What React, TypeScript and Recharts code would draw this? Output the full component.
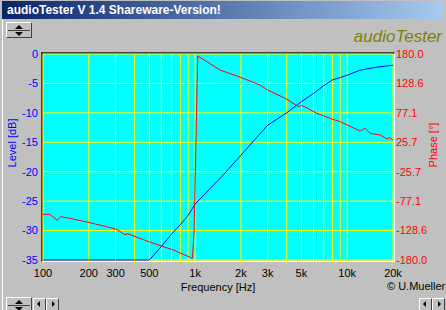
import React from "react";
import { LineChart, Line, XAxis, YAxis, CartesianGrid } from "recharts";

// Level curve (blue)
const levelFreq = [
  100, 500, 600, 700, 800, 900, 1000, 1500, 2000, 3000, 4000, 5000, 6000,
  7000, 8000, 9000, 10000, 12000, 15000, 20000,
];
const levelDb = [
  -35, -35, -32.7, -30.6, -29.0, -27.4, -25.5, -20.8, -17.2, -12.1, -10.0,
  -8.1, -6.7, -5.4, -4.4, -4.0, -3.6, -2.8, -2.3, -1.9,
];

// Phase curve (red)
const phaseFreq = [
  100, 111, 124, 131, 150, 204, 262, 305, 346, 360, 506, 720, 927, 960, 985,
  1000, 1016, 1031, 1042, 1200, 1460, 2000, 2300, 2666, 3000, 3910, 4783,
  5035, 5293, 6314, 7930, 8995, 10000, 12178, 13130, 14100, 16490, 18300,
  19000, 20000,
];
const phaseDeg = [
  -100.2, -100.2, -110.6, -104.3, -107.2, -114.9, -121.8, -126.4, -136,
  -134, -149, -162.5, -175.3, -177, -132, -45, 44, 132, 176.5, 166.4, 152,
  139, 132.8, 125.8, 117, 102.6, 88, 89.7, 87.4, 76.4, 66.4, 61.7, 56, 45.4,
  50.2, 41.4, 38.4, 31.5, 33.7, 29.7,
];

// axes
const gridFreqs = [
  100, 200, 300, 400, 500, 600, 700, 800, 900, 1000, 2000, 3000, 4000, 5000,
  6000, 7000, 8000, 9000, 10000, 20000,
];
const labeledFreqs = [100, 200, 300, 500, 1000, 2000, 3000, 5000, 10000, 20000];
const freqTickLabels = ["100", "200", "300", "500", "1k", "2k", "3k", "5k", "10k", "20k"];
const levelTicks = [0, -5, -10, -15, -20, -25, -30, -35];
const phaseTicks = [180, 128.6, 77.1, 25.7, -25.7, -77.1, -128.6, -180];

const levelData = levelFreq.map((f, i) => ({ freq: f, level: levelDb[i] }));
const phaseData = phaseFreq.map((f, i) => ({ freq: f, phase: phaseDeg[i] }));

const FONT = "'Liberation Sans', Arial, sans-serif";
const FACE = "#c0c0c0";

const freqFormatter = (v: number) => {
  const i = labeledFreqs.indexOf(v);
  return i >= 0 ? freqTickLabels[i] : "";
};

const raised = {
  background: FACE,
  borderTop: "1px solid #fff",
  borderLeft: "1px solid #fff",
  borderRight: "1px solid #404040",
  borderBottom: "1px solid #404040",
  boxSizing: "border-box" as const,
  position: "absolute" as const,
};

function Tri({ dir, s, style }: { dir: string; s: number; style: any }) {
  const t = `${s}px solid transparent`;
  const b = `${s}px solid #000`;
  const shape =
    dir === "up"
      ? { borderLeft: t, borderRight: t, borderBottom: b }
      : dir === "down"
      ? { borderLeft: t, borderRight: t, borderTop: b }
      : dir === "left"
      ? { borderTop: t, borderBottom: t, borderRight: b }
      : { borderTop: t, borderBottom: t, borderLeft: b };
  return <div style={{ position: "absolute", width: 0, height: 0, ...shape, ...style }} />;
}

function SpinButton({ left, top }: { left: number; top: number }) {
  return (
    <div style={{ ...raised, left, top, width: 26, height: 16 }}>
      <Tri dir="up" s={4} style={{ left: 8, top: 2 }} />
      <div style={{ position: "absolute", left: 1, right: 1, top: 7, height: 1, background: "#404040" }} />
      <Tri dir="down" s={4} style={{ left: 8, top: 9 }} />
    </div>
  );
}

function ArrowPair({ left, top }: { left: number; top: number }) {
  return (
    <>
      <div style={{ ...raised, left, top, width: 13, height: 13 }}>
        <Tri dir="left" s={3} style={{ left: 3, top: 2 }} />
      </div>
      <div style={{ ...raised, left: left + 13, top, width: 13, height: 13 }}>
        <Tri dir="right" s={3} style={{ left: 5, top: 2 }} />
      </div>
    </>
  );
}

export default function App() {
  return (
    <div
      style={{
        position: "absolute",
        left: 0,
        top: 0,
        width: 446,
        height: 310,
        background: FACE,
        overflow: "hidden",
        fontFamily: FONT,
      }}
    >
      {/* window title */}
      <div
        style={{
          position: "absolute",
          left: 2,
          top: 1,
          width: 442,
          height: 18,
          background: "linear-gradient(to right, #0a246a, #a6caf0)",
        }}
      >
        <div
          style={{
            position: "absolute",
            left: 5,
            top: 2,
            color: "#fff",
            fontWeight: "bold",
            fontSize: 12,
            lineHeight: "14px",
            whiteSpace: "nowrap",
          }}
        >
          audioTester V 1.4 Shareware-Version!
        </div>
      </div>
      <div style={{ position: "absolute", left: 2, top: 19, width: 1, height: 291, background: "#fff" }} />

      <SpinButton left={6} top={22} />

      <div
        style={{
          position: "absolute",
          right: 4,
          top: 28,
          color: "#808000",
          fontStyle: "italic",
          fontSize: 17,
          lineHeight: "17px",
          whiteSpace: "nowrap",
        }}
      >
        audioTester
      </div>

      {/* sunken frame around the plot */}
      <div
        style={{
          position: "absolute",
          left: 41,
          top: 52,
          width: 351,
          height: 207,
          borderTop: "2px solid #404040",
          borderLeft: "2px solid #404040",
          borderRight: "1px solid #fff",
          borderBottom: "1px solid #fff",
        }}
      />

      <div style={{ position: "absolute", left: 0, top: 0 }}>
        <LineChart width={446} height={310} margin={{ top: 54, right: 0, bottom: 0, left: 0 }}>
          <CartesianGrid
            yAxisId="level"
            fill="#00ffff"
            fillOpacity={1}
            stroke="#ffff00"
            strokeWidth={1}
          />
          <XAxis
            dataKey="freq"
            type="number"
            scale="log"
            domain={[100, 20000]}
            allowDataOverflow
            ticks={gridFreqs}
            interval={0}
            tickFormatter={freqFormatter}
            height={50}
            tickSize={3}
            tickMargin={6}
            axisLine={false}
            tickLine={{ stroke: "#ffff00" }}
            tick={{ fill: "#000", fontSize: 11, fontFamily: FONT }}
            label={{
              value: "Frequency [Hz]",
              position: "insideBottom",
              offset: 19,
              fill: "#000",
              fontSize: 11,
              fontFamily: FONT,
            }}
          />
          <YAxis
            yAxisId="level"
            type="number"
            domain={[-35, 0]}
            ticks={levelTicks}
            interval={0}
            width={43}
            tickSize={3}
            tickMargin={2}
            axisLine={false}
            tickLine={false}
            tick={{ fill: "#0000ff", fontSize: 11, fontFamily: FONT }}
            label={{
              value: "Level [dB]",
              angle: -90,
              position: "insideLeft",
              offset: 12,
              dy: -14,
              fill: "#0000ff",
              fontSize: 11,
              fontFamily: FONT,
              style: { textAnchor: "middle" },
            }}
          />
          <YAxis
            yAxisId="phase"
            orientation="right"
            type="number"
            domain={[-180, 180]}
            ticks={phaseTicks}
            interval={0}
            width={53}
            tickSize={1}
            tickMargin={2}
            axisLine={false}
            tickLine={false}
            tickFormatter={(v: number) => v.toFixed(1)}
            tick={{ fill: "#ff0000", fontSize: 11, fontFamily: FONT }}
            label={{
              value: "Phase [°]",
              angle: -90,
              position: "insideRight",
              offset: 13,
              dy: -12,
              fill: "#ff0000",
              fontSize: 11,
              fontFamily: FONT,
              style: { textAnchor: "middle" },
            }}
          />
          <Line
            yAxisId="level"
            data={levelData}
            dataKey="level"
            type="linear"
            stroke="#0000ff"
            strokeWidth={1}
            dot={false}
            activeDot={false}
            isAnimationActive={false}
          />
          <Line
            yAxisId="phase"
            data={phaseData}
            dataKey="phase"
            type="linear"
            stroke="#ff0000"
            strokeWidth={1}
            dot={false}
            activeDot={false}
            isAnimationActive={false}
          />
        </LineChart>
      </div>

      <div
        style={{
          position: "absolute",
          left: 387,
          top: 281,
          fontSize: 11,
          lineHeight: "11px",
          color: "#000",
          whiteSpace: "nowrap",
        }}
      >
        © U.Mueller
      </div>

      <SpinButton left={6} top={297} />
      <ArrowPair left={33} top={298} />
      <ArrowPair left={419} top={298} />
    </div>
  );
}
